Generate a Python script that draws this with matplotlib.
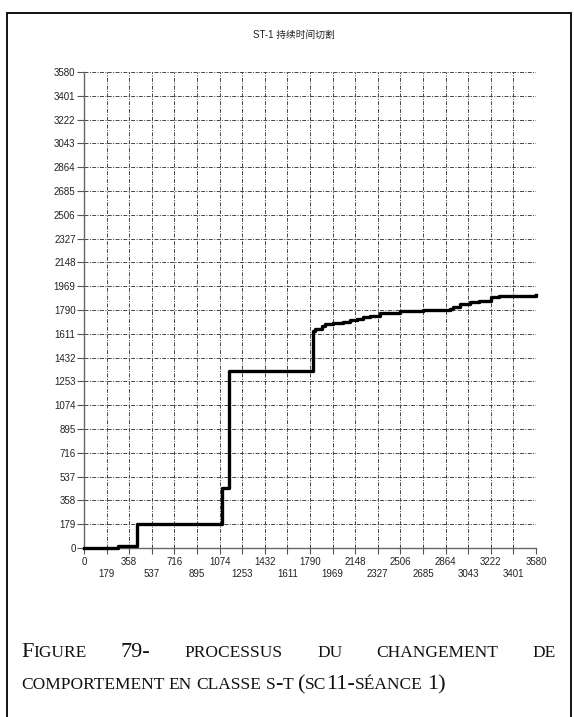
import numpy as np
import matplotlib
matplotlib.use('Agg')
import matplotlib.pyplot as plt
import matplotlib.ticker as mtick
from matplotlib.patches import Rectangle
from matplotlib.transforms import IdentityTransform

# cumulative duration curve (seconds)
time_s = [0, 271, 416, 1095, 1145, 1811, 1829, 1882, 1908, 1974, 2053, 2106, 2159,
          2211, 2264, 2343, 2422, 2501, 2580, 2685, 2869, 2900, 2922, 2975, 3054,
          3132, 3225, 3290, 3554, 3580]
duration = [0, 12, 184, 449, 1331, 1633, 1645, 1671, 1683, 1691, 1696, 1714, 1721,
            1734, 1747, 1765, 1770, 1780, 1785, 1790, 1790, 1800, 1810, 1836, 1848,
            1861, 1886, 1892, 1894, 1904]

tick_step = 179
tick_max = 3580
title = 'ST-1 持续时间切割'
caption_lines = ['Figure 79- processus du changement de',
                 'comportement en classe s-t (sc11-séance 1)']

W, H = 574, 717
fig = plt.figure(figsize=(W / 100, H / 100), dpi=100)
ax = fig.add_axes([84 / W, 1 - 548 / H, 452 / W, 476 / H])

ax.plot(time_s, duration, drawstyle='steps-post', color='black', lw=2.4,
        clip_on=False, zorder=5)

ticks = [i * tick_step for i in range(21)]
ticks[-1] = tick_max
ax.set_xlim(0, tick_max)
ax.set_ylim(0, tick_max)
ax.set_yticks(ticks)
ax.xaxis.set_major_locator(mtick.FixedLocator(ticks[0::2]))
ax.xaxis.set_minor_locator(mtick.FixedLocator(ticks[1::2]))
ax.xaxis.set_major_formatter(mtick.FormatStrFormatter('%d'))
ax.xaxis.set_minor_formatter(mtick.FormatStrFormatter('%d'))

lab_font = dict(family='Liberation Sans', size=7)
for lab in ax.get_yticklabels() + ax.get_xticklabels() + ax.get_xticklabels(minor=True):
    lab.set_fontfamily('Liberation Sans')
    lab.set_fontsize(7)
    lab.set_color('#222222')

ax.tick_params(axis='y', length=5, width=0.8, pad=1, color='#555555')
ax.tick_params(axis='x', which='major', length=4.3, width=0.8, pad=2, color='#555555')
ax.tick_params(axis='x', which='minor', length=4.3, width=0.8, pad=10.5, color='#555555')

grid_ls = (0, (4, 1.5, 1, 1.5))
ax.grid(True, which='both', axis='x', color='#444444', lw=0.7, ls=grid_ls)
ax.grid(True, which='major', axis='y', color='#444444', lw=0.7, ls=grid_ls)
ax.set_axisbelow(True)

for side in ['top', 'right']:
    ax.spines[side].set_visible(False)
for side in ['left', 'bottom']:
    ax.spines[side].set_color('#666666')
    ax.spines[side].set_linewidth(1.0)

fig.text(294 / W, 1 - 35 / H, title, ha='center', va='center', size=7,
         family=['Liberation Sans', 'Noto Sans CJK SC'], color='#222222')

# outer frame
fig.patches.append(Rectangle((7 / W, -20 / H), 564 / W, (H + 20 - 13) / H,
                             transform=fig.transFigure, fill=False,
                             edgecolor='black', lw=1.3, clip_on=False))

# small-caps caption, built from runs of big and small letters
BIG, SMALL = 16, 12.5
renderer = fig.canvas.get_renderer()


def word_runs(word):
    runs = []
    for ch in word:
        small = ch.islower()
        txt = ch.upper() if small else ch
        if runs and runs[-1][1] == small:
            runs[-1][0] += txt
        else:
            runs.append([txt, small])
    return runs


def place_word(word, x, y):
    texts = []
    for txt, small in word_runs(word):
        t = fig.text(x, y, txt, transform=IdentityTransform(),
                     family='Liberation Serif', size=SMALL if small else BIG,
                     color='#111111', ha='left', va='baseline')
        x += t.get_window_extent(renderer).width
        texts.append(t)
    return texts, x


def place_line(line, left, baseline, right=None):
    y = H - baseline
    words = line.split(' ')
    placed = []
    widths = []
    for w in words:
        texts, end = place_word(w, 0, y)
        placed.append(texts)
        widths.append(end)
    if right is not None and len(words) > 1:
        gap = (right - left - sum(widths)) / (len(words) - 1)
    else:
        gap = 0.25 * SMALL * 100 / 72
    x = left
    for texts, wd in zip(placed, widths):
        for t in texts:
            t.set_x(t.get_position()[0] + x)
        x += wd + gap


place_line(caption_lines[0], 21, 657, right=556)
place_line(caption_lines[1], 21, 689)

fig.savefig('out.png', dpi=100)
